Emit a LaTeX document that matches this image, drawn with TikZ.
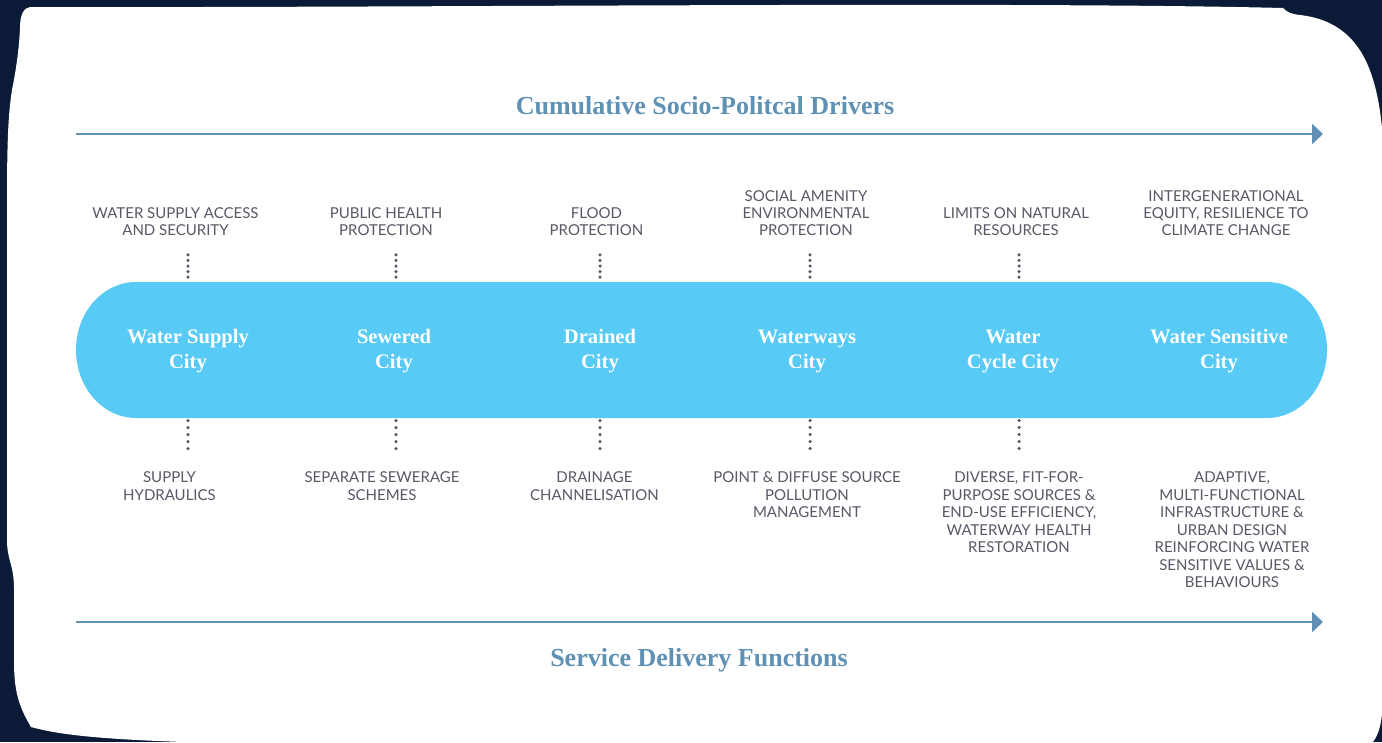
\documentclass[tikz,border=0pt]{standalone}
\usepackage{fontspec}
\setmainfont{Liberation Serif}
\newfontfamily\capfont{Lato}
\usetikzlibrary{arrows.meta}
\definecolor{navy}{RGB}{11,26,54}
\definecolor{capsule}{RGB}{87,202,245}
\definecolor{steel}{RGB}{95,145,180}
\definecolor{captext}{RGB}{88,88,102}
% centred multi-line block; #1 picks which line carries the baseline
\newcommand\colstack[2]{\begin{tabular}[#1]{@{}c@{}}#2\end{tabular}}
\begin{document}
\begin{tikzpicture}[x=1pt,y=-1pt,
  heading/.style={font=\fontsize{26}{30}\selectfont\bfseries, text=steel, inner sep=0pt, anchor=base},
  cityname/.style={font=\fontsize{20.6}{25.5}\selectfont\bfseries, text=white, inner sep=0pt, anchor=base},
  drivertext/.style={font=\capfont\fontsize{15}{17}\selectfont, text=captext, inner sep=0pt, anchor=base},
  servicetext/.style={font=\capfont\fontsize{15}{17.5}\selectfont, text=captext, inner sep=0pt, anchor=base},
  flowarrow/.style={draw=steel, line width=2.7pt, -{Triangle[length=11pt,width=20pt]}},
  dotrun/.style={draw=captext, line width=3.5pt, line cap=round, dash pattern=on 0pt off #1},
]
\useasboundingbox (0,0) rectangle (1382,742);
\clip (0,0) rectangle (1382,742);

% dark backdrop and the hand-cut white sheet
\fill[navy] (0,0) rectangle (1382,742);
\fill[white] (30,7) .. controls (400,8) and (1000,1) .. (1283,8)
  .. controls (1288,13) and (1292,14) .. (1300,15)
  .. controls (1360,22) and (1378,70) .. (1383,140)
  -- (1383,700) .. controls (1382,730) and (1376,740) .. (1369,746)
  -- (183,746) -- (183,742)
  .. controls (100,739) and (60,735) .. (31,727)
  .. controls (18,705) and (14,690) .. (14,660)
  -- (14,588) .. controls (14,565) and (7,560) .. (7,540)
  -- (7,200) .. controls (7,130) and (9,110) .. (12,90)
  .. controls (16,70) and (19,50) .. (20,28)
  .. controls (20,14) and (24,8) .. (30,7) -- cycle;

% headings and the two progression arrows
\node[heading] (drivers) at (705,114) {Cumulative Socio-Politcal Drivers};
\node[heading] (services) at (699,666) {Service Delivery Functions};
\coordinate (drvstart) at (76,134);
\coordinate (drvend) at (1323,134);
\coordinate (svcstart) at (76,622);
\coordinate (svcend) at (1323,622);
\draw[flowarrow] (drvstart) -- (drvend);
\draw[flowarrow] (svcstart) -- (svcend);

% the capsule holding the six city stages
\fill[capsule] (136,282) -- (1267,282)
  arc[start angle=-90, end angle=90, x radius=60, y radius=68]
  -- (136,418)
  arc[start angle=90, end angle=270, x radius=60, y radius=68] -- cycle;

\node[cityname] (c1) at (188,343) {\colstack{t}{Water Supply\\City}};
\node[cityname] (c2) at (394,343) {\colstack{t}{Sewered\\City}};
\node[cityname] (c3) at (600,343) {\colstack{t}{Drained\\City}};
\node[cityname] (c4) at (807,343) {\colstack{t}{Waterways\\City}};
\node[cityname] (c5) at (1013,343) {\colstack{t}{Water\\Cycle City}};
\node[cityname] (c6) at (1219,343) {\colstack{t}{Water Sensitive\\City}};

% socio-political drivers above each stage
\node[drivertext] (d1) at (175.5,235.5) {\colstack{b}{WATER SUPPLY ACCESS\\AND SECURITY}};
\node[drivertext] (d2) at (386,235.5) {\colstack{b}{PUBLIC HEALTH\\PROTECTION}};
\node[drivertext] (d3) at (596.5,235.5) {\colstack{b}{FLOOD\\PROTECTION}};
\node[drivertext] (d4) at (806,235.5) {\colstack{b}{SOCIAL AMENITY\\ENVIRONMENTAL\\PROTECTION}};
\node[drivertext] (d5) at (1016,235.5) {\colstack{b}{LIMITS ON NATURAL\\RESOURCES}};
\node[drivertext] (d6) at (1226,235.5) {\colstack{b}{INTERGENERATIONAL\\EQUITY, RESILIENCE TO\\CLIMATE CHANGE}};

% service delivery functions below each stage
\node[servicetext] (s1) at (169.5,482.5) {\colstack{t}{SUPPLY\\HYDRAULICS}};
\node[servicetext] (s2) at (382,482.5) {\colstack{t}{SEPARATE SEWERAGE\\SCHEMES}};
\node[servicetext] (s3) at (594.5,482.5) {\colstack{t}{DRAINAGE\\CHANNELISATION}};
\node[servicetext] (s4) at (807,482.5) {\colstack{t}{POINT \& DIFFUSE SOURCE\\POLLUTION\\MANAGEMENT}};
\node[servicetext] (s5) at (1019,482.5) {\colstack{t}{DIVERSE, FIT-FOR-\\PURPOSE SOURCES \&\\END-USE EFFICIENCY,\\WATERWAY HEALTH\\RESTORATION}};
\node[servicetext] (s6) at (1232,482.5) {\colstack{t}{ADAPTIVE,\\MULTI-FUNCTIONAL\\INFRASTRUCTURE \&\\URBAN DESIGN\\REINFORCING WATER\\SENSITIVE VALUES \&\\BEHAVIOURS}};

% dotted ties between the captions and the capsule
\foreach \i/\x in {1/188,2/396,3/600,4/810,5/1019}{
  \coordinate (ta\i) at (\x,254.8);
  \coordinate (tb\i) at (\x,277.4);
  \coordinate (ba\i) at (\x,420.5);
  \coordinate (bb\i) at (\x,448.8);
  \draw[dotrun=5.6pt] (ta\i) -- (tb\i);
  \draw[dotrun=7pt] (ba\i) -- (bb\i);
}
\end{tikzpicture}
\end{document}
